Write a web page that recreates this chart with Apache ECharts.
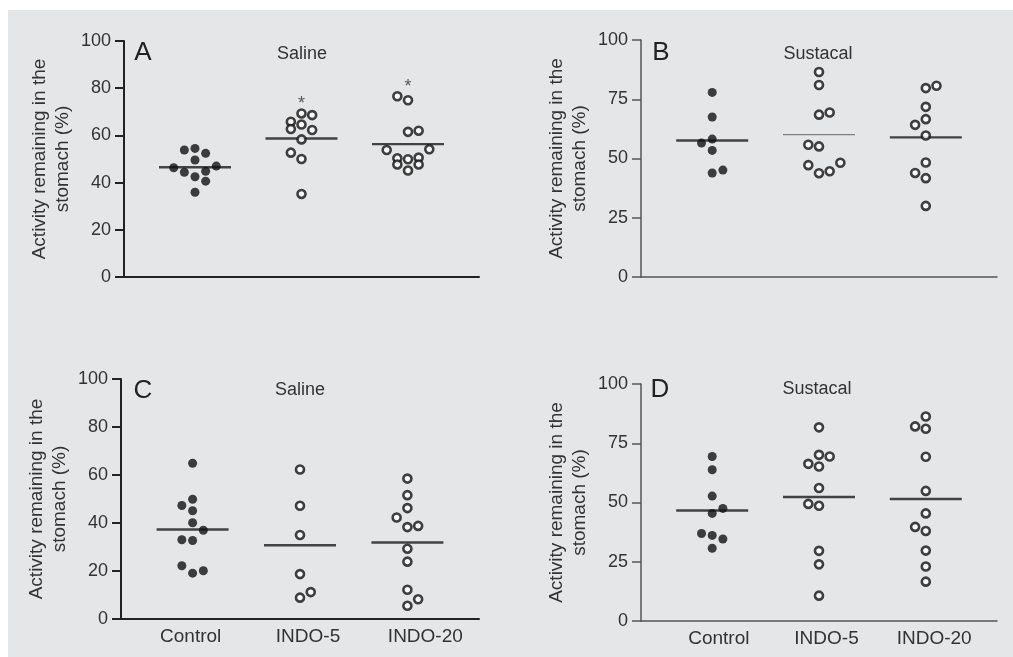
<!DOCTYPE html>
<html>
<head>
<meta charset="utf-8">
<script src="https://cdn.jsdelivr.net/npm/echarts@6/dist/echarts.min.js"></script>
<style>
html,body{margin:0;padding:0;background:#fff;}
#c{width:1013px;height:657px;}
</style>
</head>
<body>
<div id="c"></div>
<script>
// ---------- DATA ----------
var groupNames = ['Control', 'INDO-5', 'INDO-20'];
var yTicksA = [0, 20, 40, 60, 80, 100];
var yTicksB = [0, 25, 50, 75, 100];

// Panel A: Saline
var A_control = [53.8, 54.5, 52.4, 49.6, 46.3, 47.0, 44.4, 44.8, 42.5, 40.6, 35.9];
var A_controlSlots = [-1, 0, 1, 0, -2, 2, -1, 1, 0, 1, 0];
var A_indo5 = [69.3, 68.6, 65.8, 64.6, 62.7, 62.3, 58.3, 52.7, 50.0, 35.2];
var A_indo5Slots = [0, 1, -1, 0, -1, 1, 0, -1, 0, 0];
var A_indo20 = [76.6, 74.9, 61.5, 62.0, 53.8, 54.1, 50.3, 49.9, 50.6, 47.7, 47.7, 45.1];
var A_indo20Slots = [-1, 0, 0, 1, -2, 2, -1, 0, 1, -1, 1, 0];
var A_means = [46.5, 58.7, 56.3];
var A_significant = [false, true, true];

// Panel B: Sustacal
var B_control = [77.9, 67.5, 58.2, 56.5, 53.4, 43.9, 45.1];
var B_controlSlots = [0, 0, 0, -1, 0, 0, 1];
var B_indo5 = [86.5, 81.0, 68.5, 69.4, 55.8, 55.1, 47.2, 43.8, 44.6, 48.2];
var B_indo5Slots = [0, 0, 0, 1, -1, 0, -1, 0, 1, 2];
var B_indo20 = [79.7, 80.7, 71.8, 66.6, 64.2, 59.7, 48.3, 43.9, 41.7, 30.0];
var B_indo20Slots = [0, 1, 0, 0, -1, 0, 0, -1, 0, 0];
var B_means = [57.6, 60.1, 58.9];

// Panel C: Saline
var C_control = [64.9, 49.9, 47.3, 45.1, 40.1, 37.0, 33.0, 32.7, 22.2, 19.1, 20.1];
var C_controlSlots = [0, 0, -1, 0, 0, 1, -1, 0, -1, 0, 1];
var C_indo5 = [62.3, 47.2, 35.0, 18.7, 8.9, 11.2];
var C_indo5Slots = [0, 0, 0, 0, 0, 1];
var C_indo20 = [58.5, 51.6, 46.2, 42.3, 38.3, 38.8, 29.3, 23.9, 12.2, 5.5, 8.2];
var C_indo20Slots = [0, 0, 0, -1, 0, 1, 0, 0, 0, 0, 1];
var C_means = [37.3, 30.7, 31.9];

// Panel D: Sustacal
var D_control = [69.4, 63.8, 52.7, 47.5, 45.4, 36.9, 36.1, 34.6, 30.7];
var D_controlSlots = [0, 0, 0, 1, 0, -1, 0, 1, 0];
var D_indo5 = [81.7, 70.1, 69.4, 66.3, 65.2, 56.1, 49.4, 48.6, 29.6, 23.9, 10.7];
var D_indo5Slots = [0, 0, 1, -1, 0, 0, -1, 0, 0, 0, 0];
var D_indo20 = [86.3, 82.1, 81.1, 69.3, 54.9, 45.4, 39.7, 38.0, 29.7, 23.0, 16.6];
var D_indo20Slots = [0, -1, 0, 0, 0, 0, -1, 0, 0, 0, 0];
var D_means = [46.6, 52.3, 51.5];

// ---------- BUILD ----------
var SLOT = 0.1;
var FONT = 'Liberation Sans';
function pts(vals, slots, g) {
  return vals.map(function (v, i) { return [g + slots[i] * SLOT, v]; });
}

var panels = [
  {letter: 'A', title: 'Saline', grid: {left: 124, top: 41, width: 355, height: 236}, ticks: yTicksA,
   groups: [[A_control, A_controlSlots], [A_indo5, A_indo5Slots], [A_indo20, A_indo20Slots]], means: A_means,
   sig: A_significant, axisColor: '#222', axisWidth: 2, thinMean: -1,
   letterPos: [143, 53], titlePos: [302, 54]},
  {letter: 'B', title: 'Sustacal', grid: {left: 641, top: 40, width: 356, height: 237}, ticks: yTicksB,
   groups: [[B_control, B_controlSlots], [B_indo5, B_indo5Slots], [B_indo20, B_indo20Slots]], means: B_means,
   sig: null, axisColor: '#555', axisWidth: 1.5, thinMean: 1,
   letterPos: [661, 53], titlePos: [818, 54]},
  {letter: 'C', title: 'Saline', grid: {left: 121, top: 379, width: 358, height: 240}, ticks: yTicksA,
   groups: [[C_control, C_controlSlots], [C_indo5, C_indo5Slots], [C_indo20, C_indo20Slots]], means: C_means,
   sig: null, axisColor: '#222', axisWidth: 2, thinMean: -1,
   letterPos: [143, 391], titlePos: [300, 390],
   labelGrid: {left: 132, top: 379, width: 352, height: 240}},
  {letter: 'D', title: 'Sustacal', grid: {left: 641, top: 384, width: 356, height: 237}, ticks: yTicksB,
   groups: [[D_control, D_controlSlots], [D_indo5, D_indo5Slots], [D_indo20, D_indo20Slots]], means: D_means,
   sig: null, axisColor: '#555', axisWidth: 1.5, thinMean: -1,
   letterPos: [660, 390], titlePos: [817, 389],
   labelGrid: {left: 665, top: 384, width: 323, height: 237}}
];

var grids = [], xAxes = [], yAxes = [], series = [], graphics = [];
graphics.push({type: 'rect', shape: {x: 0, y: 0, width: 1013, height: 10}, style: {fill: '#fff'}, silent: true});
graphics.push({type: 'rect', shape: {x: 0, y: 0, width: 8, height: 657}, style: {fill: '#fff'}, silent: true});

panels.forEach(function (p, pi) {
  var gi = grids.length;
  grids.push(p.grid);
  var step = p.ticks[1] - p.ticks[0];
  xAxes.push({
    type: 'value', gridIndex: gi, min: -2 / 3, max: 8 / 3,
    axisLine: {show: true, onZero: false, lineStyle: {color: p.axisColor, width: p.axisWidth}},
    axisTick: {show: false}, axisLabel: {show: false}, splitLine: {show: false}
  });
  yAxes.push({
    type: 'value', gridIndex: gi, min: 0, max: 100, interval: step,
    name: 'Activity remaining in the\nstomach (%)', nameLocation: 'middle', nameGap: 50,
    nameTextStyle: {fontFamily: FONT, fontSize: 19, lineHeight: 23, color: '#333'},
    axisLine: {show: true, onZero: false, lineStyle: {color: p.axisColor, width: p.axisWidth}},
    axisTick: {show: true, inside: false, length: 9, lineStyle: {color: p.axisColor, width: p.axisWidth}},
    axisLabel: {fontFamily: FONT, fontSize: 18, color: '#333', margin: 13},
    splitLine: {show: false}
  });
  var xi = xAxes.length - 1, yi = yAxes.length - 1;

  p.groups.forEach(function (gr, g) {
    var filled = g === 0;
    series.push({
      type: 'scatter', xAxisIndex: xi, yAxisIndex: yi, z: 3,
      symbol: 'circle', symbolSize: filled ? 9 : 8,
      itemStyle: filled ? {color: '#111'} : {color: '#fff', borderColor: '#111', borderWidth: 2.6},
      data: pts(gr[0], gr[1], g), silent: true
    });
  });
  series.push({
    type: 'scatter', xAxisIndex: xi, yAxisIndex: yi, z: 2, silent: true,
    symbol: 'rect',
    data: p.means.map(function (m, g) {
      var thin = g === p.thinMean;
      return {value: [g, m], symbolSize: thin ? [72, 1.2] : [72, 2.4],
              itemStyle: {color: thin ? '#666' : '#1a1a1a'}};
    })
  });
  if (p.sig) {
    var sigData = [];
    p.sig.forEach(function (s, g) {
      if (s) sigData.push([g, Math.max.apply(null, p.groups[g][0])]);
    });
    series.push({
      type: 'scatter', xAxisIndex: xi, yAxisIndex: yi, symbolSize: 0, silent: true,
      data: sigData,
      label: {show: true, position: 'top', distance: 0, formatter: '*',
              fontFamily: FONT, fontSize: 18, color: '#333'}
    });
  }
  if (p.labelGrid) {
    var lg = grids.length;
    grids.push(p.labelGrid);
    xAxes.push({
      type: 'category', gridIndex: lg, data: groupNames, boundaryGap: true,
      axisLine: {show: false}, axisTick: {show: false}, splitLine: {show: false},
      axisLabel: {fontFamily: FONT, fontSize: 19, color: '#333', margin: 8}
    });
    yAxes.push({type: 'value', gridIndex: lg, show: false, min: 0, max: 100});
  }
  graphics.push({type: 'text', x: p.letterPos[0], y: p.letterPos[1],
    style: {text: p.letter, fontFamily: FONT, fontSize: 26, fill: '#222', textAlign: 'center', textVerticalAlign: 'middle'}});
  graphics.push({type: 'text', x: p.titlePos[0], y: p.titlePos[1],
    style: {text: p.title, fontFamily: FONT, fontSize: 18, fill: '#333', textAlign: 'center', textVerticalAlign: 'middle'}});
});

var chart = echarts.init(document.getElementById('c'), null, {renderer: 'canvas'});
chart.setOption({
  backgroundColor: '#e5e6e7',
  animation: false,
  grid: grids,
  xAxis: xAxes,
  yAxis: yAxes,
  series: series,
  graphic: graphics
});
</script>
</body>
</html>
